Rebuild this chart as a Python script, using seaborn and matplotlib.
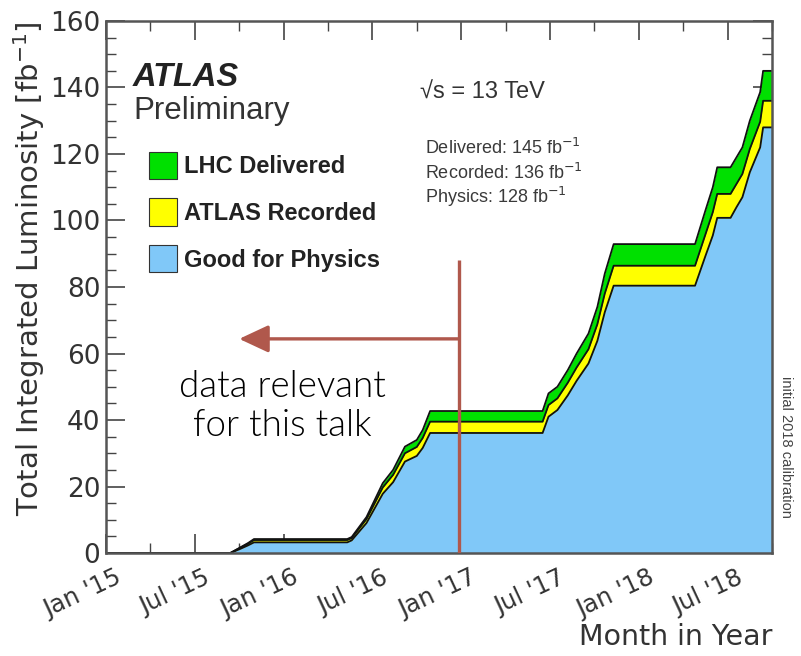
import numpy as np
import pandas as pd
import matplotlib
matplotlib.use("Agg")
import matplotlib.pyplot as plt
import matplotlib.transforms as mtransforms
from matplotlib.patches import Patch
from matplotlib.ticker import MultipleLocator
import seaborn as sns

# ---- data (months since Jan 2015, integrated luminosity in fb^-1) ----
months = [0, 8.4, 9.0, 9.6, 10.0, 16.3, 16.6, 17.6, 18.7, 19.4, 20.2, 21.0, 21.4, 21.9,
          29.5, 29.9, 30.5, 31.2, 31.8, 32.6, 33.2, 33.7, 34.3, 39.8, 40.5, 41.0, 41.3,
          42.2, 42.6, 43.0, 43.5, 44.2, 44.4, 45.0]
delivered = [0, 0, 1.5, 3.0, 4.2, 4.2, 4.8, 10.8, 21.0, 25.0, 32.0, 34.0, 37.0, 42.7,
             42.7, 48.0, 50.0, 55.0, 60.0, 66.0, 74.0, 84.0, 92.9, 92.9, 103.0, 110.0, 116.0,
             116.0, 119.0, 122.0, 130.0, 138.6, 145.0, 145.0]
recorded = [0, 0, 1.4, 2.8, 3.9, 3.9, 4.5, 10.2, 19.7, 23.5, 30.0, 31.9, 34.6, 39.5,
            39.5, 44.5, 46.5, 51.2, 55.8, 61.3, 68.8, 78.0, 86.4, 86.4, 95.8, 102.5, 108.0,
            108.0, 111.0, 114.0, 121.5, 129.7, 136.0, 136.0]
physics = [0, 0, 1.1, 2.3, 3.2, 3.2, 3.8, 9.0, 17.8, 21.3, 27.5, 29.2, 31.6, 36.1,
           36.1, 41.0, 43.0, 47.4, 51.8, 57.0, 63.8, 72.4, 80.4, 80.4, 89.3, 95.5, 100.8,
           100.8, 104.0, 107.0, 114.5, 122.0, 128.0, 128.0]

series_names = ["LHC Delivered", "ATLAS Recorded", "Good for Physics"]
series_colors = ["#00e000", "#ffff00", "#80c8f8"]
x_tick_months = [0, 6, 12, 18, 24, 30, 36, 42]
x_tick_labels = ["Jan '15", "Jul '15", "Jan '16", "Jul '16", "Jan '17", "Jul '17", "Jan '18", "Jul '18"]
y_ticks = [0, 20, 40, 60, 80, 100, 120, 140, 160]
totals_text = ["Delivered: 145 fb$^{-1}$", "Recorded: 136 fb$^{-1}$", "Physics: 128 fb$^{-1}$"]

sns.set_theme(style="ticks")
plt.rcParams["font.family"] = ["DejaVu Sans"]
plt.rcParams["mathtext.fontset"] = "dejavusans"

fig = plt.figure(figsize=(8.01, 6.56), dpi=100)
ax = fig.add_axes([0.1323, 0.157, 0.8315, 0.811])

df = pd.DataFrame({"month": months, series_names[0]: delivered,
                   series_names[1]: recorded, series_names[2]: physics})
long = df.melt(id_vars="month", var_name="series", value_name="lumi")

for name, color in zip(series_names, series_colors):
    ax.fill_between(df["month"], 0, df[name], color=color, lw=0, zorder=1)

sns.lineplot(data=long, x="month", y="lumi", units="series", estimator=None,
             color="#111111", lw=1.3, ax=ax, zorder=2, legend=False)

ax.set_xlim(0, 45)
ax.set_ylim(0, 160)

# ticks
ax.set_yticks(y_ticks)
ax.set_yticklabels([str(v) for v in y_ticks], fontsize=19, color="#333333")
ax.set_xticks(x_tick_months)
ax.set_xticklabels(x_tick_labels, fontsize=17.5, color="#333333", rotation=25,
                   ha="right", rotation_mode="anchor")
ax.xaxis.set_minor_locator(MultipleLocator(3))
ax.yaxis.set_minor_locator(MultipleLocator(5))
ax.tick_params(which="both", direction="in", top=True, right=True, color="#444444")
ax.tick_params(which="major", length=14, width=1.2)
ax.tick_params(which="minor", length=7, width=1.0)
ax.tick_params(axis="y", which="major", pad=4)
ax.tick_params(axis="x", which="major", pad=9)
offset = mtransforms.ScaledTranslation(9 / 100, 0, fig.dpi_scale_trans)
for lbl in ax.get_xticklabels():
    lbl.set_transform(lbl.get_transform() + offset)

for sp in ax.spines.values():
    sp.set_color("#555555")
    sp.set_linewidth(1.8)
    sp.set_zorder(5)

ax.set_ylabel("Total Integrated Luminosity [fb$^{-1}$]", fontsize=21, color="#333333", loc="top")
ax.yaxis.set_label_coords(-0.088, 1.0)
ax.set_xlabel("Month in Year", fontsize=20.5, color="#333333", loc="right")
ax.xaxis.set_label_coords(1.0, -0.132)

# legend
handles = [Patch(facecolor=c, edgecolor="#333333", lw=0.8) for c in series_colors]
leg = ax.legend(handles, series_names, loc="upper left", bbox_to_anchor=(0.0646, 0.754),
                frameon=False, prop=dict(family="Liberation Sans", weight="bold", size=17),
                handlelength=1.2, handleheight=1.4, handletextpad=0.3, labelspacing=0.82,
                borderpad=0, borderaxespad=0)
for t in leg.get_texts():
    t.set_color("#222222")

# ATLAS labels
ax.text(0.0405, 0.893, "ATLAS", transform=ax.transAxes, fontsize=23.5, fontweight="bold",
        fontstyle="italic", family="Liberation Sans", color="#222222", va="center", ha="left")
ax.text(0.0405, 0.831, "Preliminary", transform=ax.transAxes, fontsize=22.5,
        family="Liberation Sans", color="#333333", va="center", ha="left")
ax.text(0.471, 0.865, "\u221as = 13 TeV", transform=ax.transAxes, fontsize=17,
        family="Liberation Sans", color="#333333", va="center", ha="left")
for t, y in zip(totals_text, [0.761, 0.714, 0.669]):
    ax.text(0.479, y, t, transform=ax.transAxes, fontsize=13,
            family="Liberation Sans", color="#3a3a3a", va="center", ha="left")

fig.text(0.981, 0.319, "initial 2018 calibration", rotation=270, fontsize=10.5,
         family="Liberation Sans", color="#444444", ha="center", va="center")

# talk annotation
red = "#b0584c"
ax.plot([23.85, 23.85], [0, 88.1], color=red, lw=2.4, zorder=6, solid_capstyle="butt")
ax.annotate("", xy=(9.0, 64.4), xytext=(23.85, 64.4),
            arrowprops=dict(arrowstyle="-|>,head_length=0.6,head_width=0.28", color=red,
                            lw=2.4, mutation_scale=30, shrinkA=0, shrinkB=0), zorder=6)
ax.text(0.265, 0.275, "data relevant\nfor this talk", transform=ax.transAxes, fontsize=26.5,
        family="Lato", fontweight=300, color="#000000", ha="center", va="center",
        linespacing=1.2)

fig.savefig("out.png", dpi=100)
